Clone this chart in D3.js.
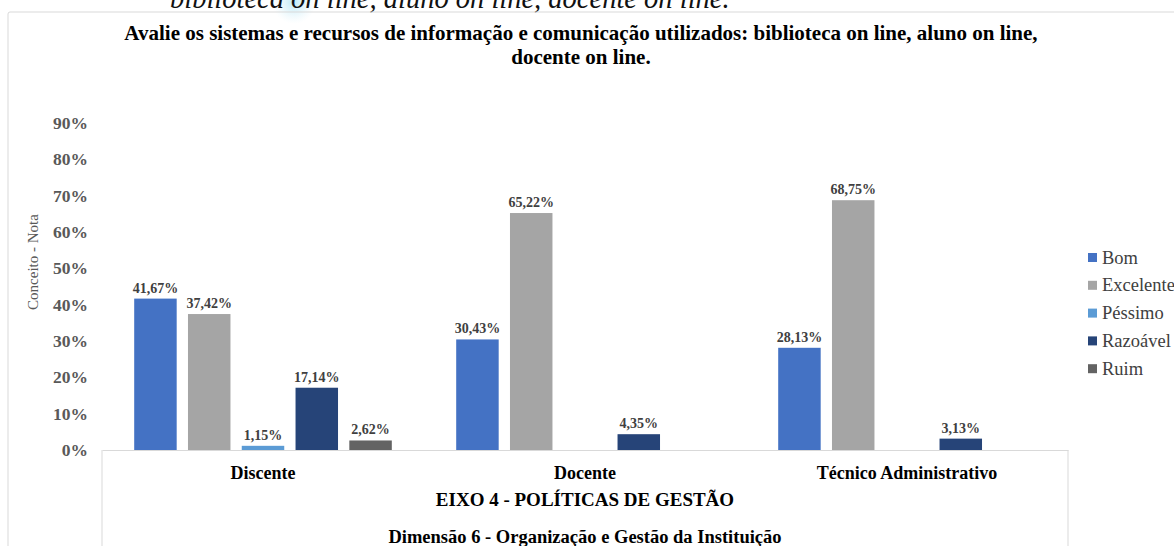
<!DOCTYPE html>
<html>
<head>
<meta charset="utf-8">
<script src="https://cdn.jsdelivr.net/npm/d3@7.9.0/dist/d3.min.js"></script>
<style>
  html, body { margin: 0; padding: 0; background: #fff; }
  svg { display: block; font-family: 'Liberation Serif', 'Times New Roman', serif; }
</style>
</head>
<body>
<svg id="chart" width="1174" height="546"></svg>
<script>
const categories = ['Discente', 'Docente', 'Técnico Administrativo'];
const seriesNames = ['Bom', 'Excelente', 'Péssimo', 'Razoável', 'Ruim'];
const bom = [41.67, 30.43, 28.13];
const excelente = [37.42, 65.22, 68.75];
const pessimo = [1.15, null, null];
const razoavel = [17.14, 4.35, 3.13];
const ruim = [2.62, null, null];
const yTicks = [0, 10, 20, 30, 40, 50, 60, 70, 80, 90];
const colors = ['#4472C4', '#A5A5A5', '#5B9BD5', '#264478', '#636363'];

const values = [bom, excelente, pessimo, razoavel, ruim];

const svg = d3.select('#chart');
const W = 1174, H = 546;
const plotLeft = 102, plotRight = 1068, plotBottom = 450, plotTop = 123;

// bit of the caption from the page above, cut off by the crop
const grad = svg.append('defs').append('radialGradient').attr('id', 'blob');
grad.append('stop').attr('offset', '0%').attr('stop-color', '#b5e6f5').attr('stop-opacity', 0.9);
grad.append('stop').attr('offset', '100%').attr('stop-color', '#dff4fb').attr('stop-opacity', 0);
svg.append('circle').attr('cx', 294).attr('cy', 2).attr('r', 22).attr('fill', 'url(#blob)');
svg.append('text')
  .attr('x', 170).attr('y', 8)
  .attr('font-size', 28.5).attr('font-style', 'italic').attr('fill', '#111')
  .text('biblioteca on line, aluno on line, docente on line.');

// chart area border (only top and left visible)
svg.append('path')
  .attr('d', `M8,${H} L8,14 Q8,12 10,12 L${W},12`)
  .attr('fill', 'none').attr('stroke', '#d9d9d9').attr('stroke-width', 1);

// title
const title = svg.append('text')
  .attr('text-anchor', 'middle').attr('font-weight', 'bold')
  .attr('font-size', 21).attr('fill', '#000');
title.append('tspan').attr('x', 581).attr('y', 40)
  .text('Avalie os sistemas e recursos de informação e comunicação utilizados: biblioteca on line, aluno on line,');
title.append('tspan').attr('x', 581).attr('y', 64).text('docente on line.');

const x0 = d3.scaleBand().domain(categories).range([plotLeft, plotRight])
  .paddingInner(0.2).paddingOuter(0.1);
const x1 = d3.scaleBand().domain(seriesNames).range([0, x0.bandwidth()])
  .paddingInner(0.21).paddingOuter(0);
const y = d3.scaleLinear().domain([0, 90]).range([plotBottom, plotTop]);

// y axis
const yAxis = svg.append('g')
  .attr('transform', `translate(${plotLeft},0)`)
  .call(d3.axisLeft(y).tickValues(yTicks).tickSize(0).tickPadding(14).tickFormat(d => d + '%'));
yAxis.select('.domain').remove();
yAxis.selectAll('text')
  .attr('font-family', "'Liberation Serif', serif")
  .attr('font-size', 17.5).attr('font-weight', 'bold').attr('fill', '#595959');

svg.append('text')
  .attr('transform', 'translate(38,262) rotate(-90)')
  .attr('text-anchor', 'middle').attr('font-size', 15).attr('fill', '#595959')
  .text('Conceito - Nota');

// bars
const groups = svg.append('g').selectAll('g')
  .data(categories)
  .join('g')
  .attr('transform', d => `translate(${x0(d)},0)`);

groups.each(function(cat, ci) {
  const g = d3.select(this);
  seriesNames.forEach((s, si) => {
    const v = values[si][ci];
    if (v == null) return;
    g.append('rect')
      .attr('x', x1(s)).attr('y', y(v))
      .attr('width', x1.bandwidth()).attr('height', y(0) - y(v))
      .attr('fill', colors[si]);
    g.append('text')
      .attr('x', x1(s) + x1.bandwidth() / 2).attr('y', y(v) - 6)
      .attr('text-anchor', 'middle').attr('font-size', 14).attr('font-weight', 'bold')
      .attr('fill', '#404040')
      .text(v.toFixed(2).replace('.', ',') + '%');
  });
});

// category axis
const xAxis = svg.append('g')
  .attr('transform', `translate(0,${plotBottom})`)
  .call(d3.axisBottom(x0).tickSize(0).tickSizeOuter(0).tickPadding(16));
xAxis.select('.domain').attr('stroke', '#d9d9d9');
xAxis.selectAll('text')
  .attr('font-family', "'Liberation Serif', serif")
  .attr('font-size', 18).attr('font-weight', 'bold').attr('fill', '#000');

// multi-level category box
svg.append('path')
  .attr('d', `M${plotLeft},${plotBottom} L${plotLeft},${H} M${plotRight},${plotBottom} L${plotRight},${H}`)
  .attr('stroke', '#d9d9d9').attr('fill', 'none');

svg.append('text')
  .attr('x', (plotLeft + plotRight) / 2).attr('y', 506)
  .attr('text-anchor', 'middle').attr('font-size', 19).attr('font-weight', 'bold')
  .text('EIXO 4 - POLÍTICAS DE GESTÃO');
svg.append('text')
  .attr('x', (plotLeft + plotRight) / 2).attr('y', 543)
  .attr('text-anchor', 'middle').attr('font-size', 18.5).attr('font-weight', 'bold')
  .text('Dimensão 6 - Organização e Gestão da Instituição');

// legend
const legend = svg.append('g').attr('transform', 'translate(1088,253)');
seriesNames.forEach((s, i) => {
  const row = legend.append('g').attr('transform', `translate(0,${i * 27.8})`);
  row.append('rect').attr('width', 9).attr('height', 9).attr('fill', colors[i]);
  row.append('text').attr('x', 14).attr('y', 10.5)
    .attr('font-size', 18.5).attr('fill', '#404040').text(s);
});
</script>
</body>
</html>
